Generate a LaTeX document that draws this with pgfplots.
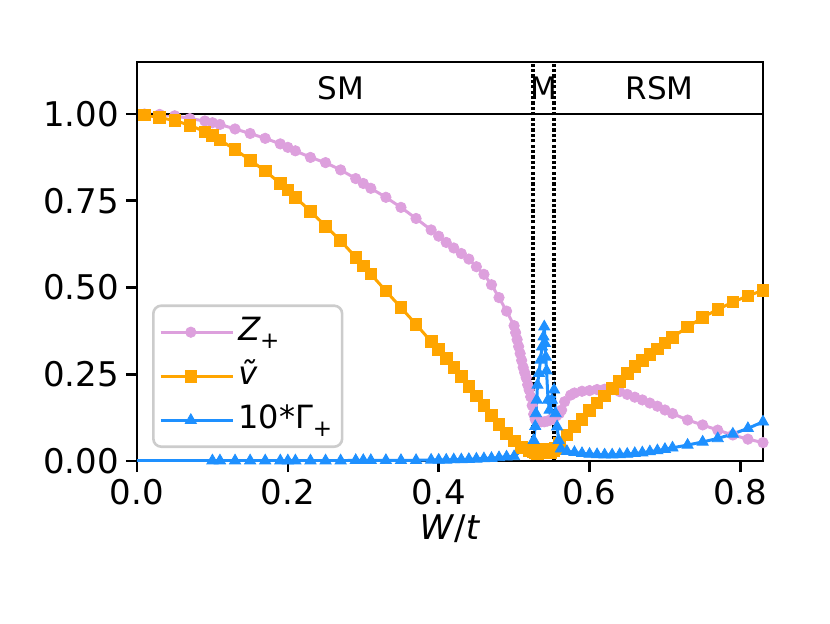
\documentclass[border=0pt]{standalone}
\usepackage{fontspec}
\setmainfont{DejaVu Sans}
\usepackage{pgfplots}
\pgfplotsset{compat=1.18}
\definecolor{plumc}{RGB}{221,160,221}
\definecolor{orangec}{RGB}{255,165,0}
\definecolor{dodger}{RGB}{30,144,255}
\newcommand{\sub}[1]{\raisebox{-0.25em}{\fontsize{11.5}{12}\selectfont #1}}
\begin{document}
\begin{tikzpicture}
\begin{axis}[
  at={(0,0)}, anchor=south west,
  scale only axis, width=313pt, height=199.5pt,
  xmin=0, xmax=0.83, ymin=0, ymax=1.15,
  xtick={0,0.2,0.4,0.6,0.8}, ytick={0,0.25,0.5,0.75,1},
  /pgf/number format/assume math mode=true,
  xticklabel style={/pgf/number format/fixed,/pgf/number format/fixed zerofill,/pgf/number format/precision=1},
  yticklabel style={/pgf/number format/fixed,/pgf/number format/fixed zerofill,/pgf/number format/precision=2},
  scaled ticks=false,
  tick align=outside, major tick length=5.5pt, minor tick num=0,
  xtick pos=bottom, ytick pos=left,
  tick style={black, line width=1.3pt},
  axis line style={line width=1.3pt},
  ticklabel style={font=\fontsize{17}{20}\selectfont},
  label style={font=\fontsize{17}{20}\selectfont},
  xlabel={\textit{W}/\textit{t}},
  xlabel style={yshift=2pt},
  legend style={at={(0.024,0.0326)}, anchor=south west, draw=black!20, line width=1.3pt,
    rounded corners=4pt, fill=white, font=\fontsize{16}{19}\selectfont,
    inner xsep=3pt, inner ysep=3pt, row sep=1.5pt,
    nodes={inner sep=2pt, text height=12.5pt, text depth=4pt}},
  legend cell align=left,
  legend image code/.code={\path (0pt,0pt) -- (36pt,0pt);
    \draw[sharp corners, mark repeat=2, mark phase=2] plot coordinates {(0pt,0pt) (15pt,0pt) (30pt,0pt)};},
]
\addplot[color=plumc, line width=1.5pt, mark=*, mark size=2.6pt, mark options={solid, line width=0.4pt, fill=plumc, draw=plumc}] coordinates {
(0.01,1.000) (0.03,0.999) (0.05,0.995) (0.07,0.987) (0.09,0.980) (0.10,0.975) (0.11,0.970)
(0.13,0.957) (0.15,0.944) (0.17,0.930) (0.19,0.914) (0.20,0.904) (0.21,0.894) (0.23,0.875)
(0.25,0.860) (0.27,0.839) (0.29,0.814) (0.30,0.800) (0.31,0.786) (0.33,0.760) (0.35,0.731)
(0.37,0.699) (0.39,0.666) (0.40,0.648) (0.41,0.630) (0.42,0.614) (0.43,0.598) (0.44,0.582)
(0.45,0.560) (0.46,0.538) (0.47,0.508) (0.48,0.471) (0.49,0.432) (0.50,0.390)
(0.502,0.370) (0.504,0.350) (0.506,0.330) (0.508,0.310) (0.510,0.290) (0.512,0.270)
(0.514,0.255) (0.516,0.240) (0.518,0.220) (0.520,0.205) (0.522,0.185) (0.524,0.160)
(0.526,0.135) (0.528,0.120) (0.532,0.115) (0.536,0.113) (0.540,0.113) (0.544,0.115)
(0.548,0.118) (0.552,0.122) (0.556,0.130) (0.560,0.137) (0.563,0.147) (0.567,0.171)
(0.575,0.190) (0.58,0.196) (0.59,0.201) (0.60,0.203) (0.61,0.206) (0.62,0.207) (0.63,0.206)
(0.64,0.200) (0.65,0.192) (0.66,0.184) (0.67,0.176) (0.68,0.167) (0.69,0.158) (0.70,0.147)
(0.71,0.137) (0.73,0.118) (0.75,0.104) (0.77,0.089) (0.79,0.075) (0.81,0.063) (0.83,0.053)
};
\addlegendentry{{\itshape Z}\sub{+}}
\addplot[color=orangec, line width=1.5pt, mark=square*, mark size=2.9pt, mark options={solid, line width=0.4pt, fill=orangec, draw=orangec}] coordinates {
(0.01,0.997) (0.03,0.990) (0.05,0.981) (0.07,0.968) (0.09,0.949) (0.10,0.939) (0.11,0.925)
(0.13,0.898) (0.15,0.867) (0.17,0.836) (0.19,0.800) (0.20,0.781) (0.21,0.760) (0.23,0.720)
(0.25,0.677) (0.27,0.635) (0.29,0.587) (0.30,0.562) (0.31,0.539) (0.33,0.490) (0.35,0.442)
(0.37,0.394) (0.39,0.344) (0.40,0.322) (0.41,0.295) (0.42,0.270) (0.43,0.243) (0.44,0.215)
(0.45,0.188) (0.46,0.160) (0.47,0.132) (0.48,0.105) (0.49,0.080) (0.50,0.058) (0.51,0.040)
(0.52,0.030) (0.525,0.026) (0.528,0.024) (0.531,0.022) (0.534,0.025) (0.537,0.030)
(0.540,0.034) (0.543,0.030) (0.546,0.026) (0.549,0.025) (0.552,0.030) (0.555,0.036)
(0.56,0.050) (0.57,0.075) (0.58,0.099) (0.59,0.120) (0.60,0.145) (0.61,0.167) (0.62,0.188)
(0.63,0.209) (0.64,0.230) (0.65,0.252) (0.66,0.273) (0.67,0.290) (0.68,0.307) (0.69,0.323)
(0.70,0.340) (0.71,0.357) (0.73,0.386) (0.75,0.414) (0.77,0.437) (0.79,0.458) (0.81,0.476)
(0.83,0.492)
};
\addlegendentry{\textit{ṽ}}
\addplot[color=dodger, line width=1.5pt, forget plot] coordinates {(0.00,0.001) (0.10,0.001)};
\addplot[color=dodger, line width=1.5pt, mark=triangle*, mark size=3.2pt, mark options={solid, line width=0.4pt, fill=dodger, draw=dodger}] coordinates {
(0.10,0.001) (0.11,0.001) (0.13,0.001) (0.15,0.001) (0.17,0.001) (0.19,0.001)
(0.20,0.001) (0.21,0.001) (0.23,0.001) (0.25,0.001) (0.27,0.001) (0.29,0.002) (0.30,0.002)
(0.31,0.002) (0.33,0.002) (0.35,0.002) (0.37,0.002) (0.39,0.003) (0.40,0.003) (0.41,0.003)
(0.42,0.004) (0.43,0.004) (0.44,0.005) (0.45,0.006) (0.46,0.007) (0.47,0.008) (0.48,0.010)
(0.49,0.012) (0.50,0.013) (0.526,0.060) (0.528,0.100) (0.529,0.137) (0.530,0.176)
(0.531,0.219) (0.533,0.253) (0.535,0.291) (0.537,0.329) (0.539,0.358) (0.540,0.387)
(0.541,0.339) (0.542,0.300) (0.543,0.260) (0.545,0.176) (0.547,0.147) (0.550,0.176)
(0.553,0.205) (0.555,0.137) (0.557,0.099) (0.559,0.060) (0.562,0.035) (0.57,0.028)
(0.58,0.025) (0.59,0.022) (0.60,0.020) (0.61,0.019) (0.62,0.018) (0.63,0.018) (0.64,0.019)
(0.65,0.020) (0.66,0.022) (0.67,0.024) (0.68,0.027) (0.69,0.030) (0.70,0.034) (0.71,0.038)
(0.73,0.046) (0.75,0.055) (0.77,0.065) (0.79,0.078) (0.81,0.094) (0.83,0.113)
};
\addlegendentry{10*Γ\sub{+}}
\addplot[black, line width=1.3pt, forget plot] coordinates {(0,1) (0.83,1)};
\addplot[black, line width=1.6pt, dash pattern=on 1.6pt off 1.1pt, forget plot] coordinates {(0.525,0) (0.525,1.15)};
\addplot[black, line width=1.6pt, dash pattern=on 1.6pt off 1.1pt, forget plot] coordinates {(0.553,0) (0.553,1.15)};
\node[font=\fontsize{15.5}{18}\selectfont] at (axis cs:0.27,1.075) {SM};
\node[font=\fontsize{15.5}{18}\selectfont] at (axis cs:0.539,1.075) {M};
\node[font=\fontsize{15.5}{18}\selectfont] at (axis cs:0.693,1.075) {RSM};
\end{axis}
\pgfresetboundingbox
\path (-68.5pt,-81pt) rectangle (346.5pt,230.5pt);
\end{tikzpicture}
\end{document}
